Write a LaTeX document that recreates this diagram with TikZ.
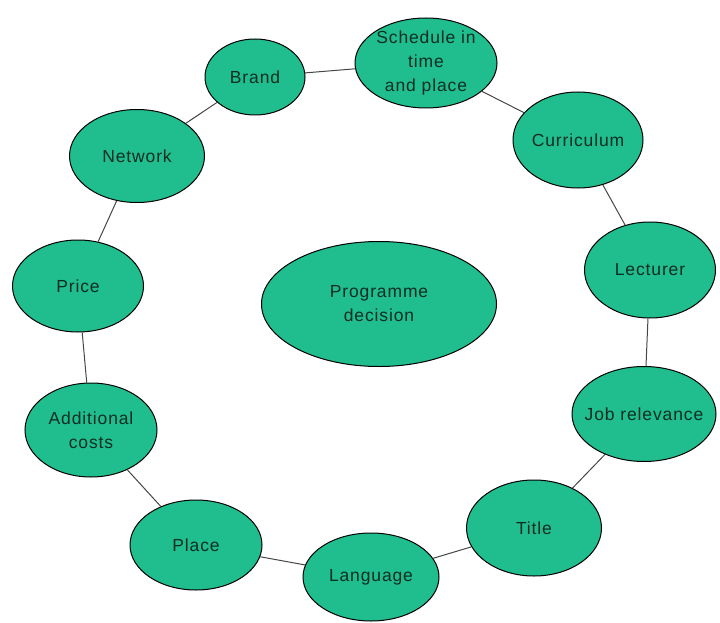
\documentclass[tikz,border=0pt]{standalone}
\usepackage{fontspec}
\setmainfont[LetterSpace=5]{Liberation Sans}
\usetikzlibrary{shapes.geometric}
\definecolor{bubble}{RGB}{32,190,142}
\definecolor{ink}{RGB}{12,45,32}
\definecolor{link}{RGB}{70,70,70}
\tikzset{
  bub/.style={ellipse, draw=black, line width=1pt, fill=bubble,
    inner sep=0pt},
  lbl/.style={text=ink, inner sep=0pt, align=center, font=\fontsize{17.5}{24}\selectfont},
  lnk/.style={draw=link, line width=1pt}
}
\begin{document}
\begin{tikzpicture}[x=1pt,y=-1pt]
\useasboundingbox (0,0) rectangle (720,623);
\node[bub, minimum width=100, minimum height=76, label={[lbl]center:Brand}] (brand) at (255,77) {};
\node[bub, minimum width=142, minimum height=90, label={[lbl]center:Schedule in\\time\\and place}] (sched) at (426,63) {};
\node[bub, minimum width=130, minimum height=96, label={[lbl]center:Curriculum}] (curr) at (578,140) {};
\node[bub, minimum width=131, minimum height=96, label={[lbl]center:Lecturer}] (lect) at (650,270) {};
\node[bub, minimum width=144, minimum height=95, label={[lbl]center:Job relevance}] (job) at (644,414) {};
\node[bub, minimum width=135, minimum height=96, label={[lbl]center:Title}] (title) at (534,528) {};
\node[bub, minimum width=136, minimum height=88, label={[lbl]center:Language}] (lang) at (371,577) {};
\node[bub, minimum width=132, minimum height=90, label={[lbl]center:Place}] (place) at (196,545) {};
\node[bub, minimum width=132, minimum height=94, label={[lbl]center:Additional\\costs}] (add) at (91,430) {};
\node[bub, minimum width=131, minimum height=92, label={[lbl]center:Price}] (price) at (78,286) {};
\node[bub, minimum width=135, minimum height=93, label={[lbl]center:Network}] (net) at (137,156) {};
\node[bub, minimum width=235, minimum height=125, label={[lbl]center:Programme\\decision}] (prog) at (379,304) {};
\draw[lnk] (brand) -- (sched);
\draw[lnk] (sched) -- (curr);
\draw[lnk] (curr) -- (lect);
\draw[lnk] (lect) -- (job);
\draw[lnk] (job) -- (title);
\draw[lnk] (title) -- (lang);
\draw[lnk] (lang) -- (place);
\draw[lnk] (place) -- (add);
\draw[lnk] (add) -- (price);
\draw[lnk] (price) -- (net);
\draw[lnk] (net) -- (brand);
\end{tikzpicture}
\end{document}
